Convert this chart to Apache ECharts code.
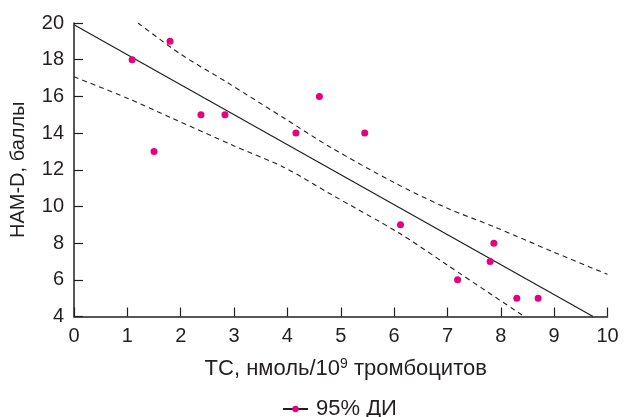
<!DOCTYPE html>
<html>
<head>
<meta charset="utf-8">
<script src="https://cdn.jsdelivr.net/npm/echarts@6/dist/echarts.min.js"></script>
<style>
  html, body { margin: 0; padding: 0; background: #fff; }
  #chart { width: 624px; height: 417px; }
</style>
</head>
<body>
<div id="chart"></div>
<script>
// scatter points: TC (x) vs HAM-D (y)
const pointX = [1.09, 1.80, 1.50, 2.38, 2.83, 4.16, 4.60, 5.45, 6.12, 7.19, 7.80, 7.87, 8.30, 8.70]
const pointY = [18, 19, 13, 15, 15, 14, 16, 14, 9, 6, 7, 8, 5, 5]

// regression line
const fitX = [0, 9.73]
const fitY = [19.9, 4]

// 95% confidence band
const upperX = [1.2, 2, 2.87, 4, 4.8, 6, 7, 7.86, 9, 10]
const upperY = [20, 18.3, 16.76, 14.7, 13.24, 11.3, 9.9, 8.91, 7.5, 6.3]
const lowerX = [0, 1, 1.81, 3, 3.93, 4.8, 6.11, 7, 8.44]
const lowerY = [17.07, 15.9, 14.85, 13.3, 12.14, 10.69, 8.52, 6.8, 4]

const xTicks = [0, 10, 1]   // min, max, interval
const yTicks = [4, 20, 2]

const zip = (xs, ys) => xs.map((x, i) => [x, ys[i]])

const font = "'Liberation Sans', Arial, sans-serif"
const ink = '#231f20'
const pink = '#e6007e'

const chart = echarts.init(document.getElementById('chart'))

chart.setOption({
  animation: false,
  textStyle: { fontFamily: font },
  grid: { left: 74, right: 16.5, top: 23, bottom: 100.5 },
  legend: {
    data: ['95% ДИ'],
    left: 282,
    top: 398,
    padding: 0,
    itemWidth: 25,
    itemHeight: 8,
    textStyle: { fontSize: 22, color: ink, fontFamily: font, padding: [0, 0, 0, 3] }
  },
  xAxis: {
    type: 'value',
    min: xTicks[0],
    max: xTicks[1],
    interval: xTicks[2],
    name: 'ТС, нмоль/10{sup|9} тромбоцитов',
    nameLocation: 'middle',
    nameGap: 41,
    nameTextStyle: {
      fontSize: 22,
      color: ink,
      padding: [0, 0, 0, 10],
      rich: { sup: { fontSize: 14, verticalAlign: 'top', padding: [0, 0, 9, 0], color: ink } }
    },
    axisLine: { lineStyle: { color: ink, width: 1.5 } },
    axisTick: { inside: true, length: 9, lineStyle: { color: ink, width: 1.2 } },
    axisLabel: { margin: 10, fontSize: 20, color: ink },
    splitLine: { show: false }
  },
  yAxis: {
    type: 'value',
    min: yTicks[0],
    max: yTicks[1],
    interval: yTicks[2],
    name: 'HAM-D, баллы',
    nameLocation: 'middle',
    nameGap: 46,
    nameTextStyle: { fontSize: 20, color: ink },
    axisLine: { show: true, lineStyle: { color: ink, width: 1.5 } },
    axisTick: { show: true, inside: true, length: 9, lineStyle: { color: ink, width: 1.2 } },
    axisLabel: { margin: 10, fontSize: 20, color: ink },
    splitLine: { show: false }
  },
  series: [
    {
      name: '95% ДИ',
      type: 'line',
      data: zip(fitX, fitY),
      symbol: 'circle',
      symbolSize: 7,
      showSymbol: false,
      itemStyle: { color: pink },
      lineStyle: { color: ink, width: 1.2 },
      z: 3
    },
    {
      name: 'upper',
      type: 'line',
      data: zip(upperX, upperY),
      smooth: 0.3,
      showSymbol: false,
      lineStyle: { color: ink, width: 1.1, type: [5, 4] }
    },
    {
      name: 'lower',
      type: 'line',
      data: zip(lowerX, lowerY),
      smooth: 0.3,
      showSymbol: false,
      lineStyle: { color: ink, width: 1.1, type: [5, 4] }
    },
    {
      name: 'points',
      type: 'scatter',
      data: zip(pointX, pointY),
      symbolSize: 7,
      itemStyle: { color: pink, opacity: 1 },
      z: 5
    }
  ]
})
</script>
</body>
</html>
